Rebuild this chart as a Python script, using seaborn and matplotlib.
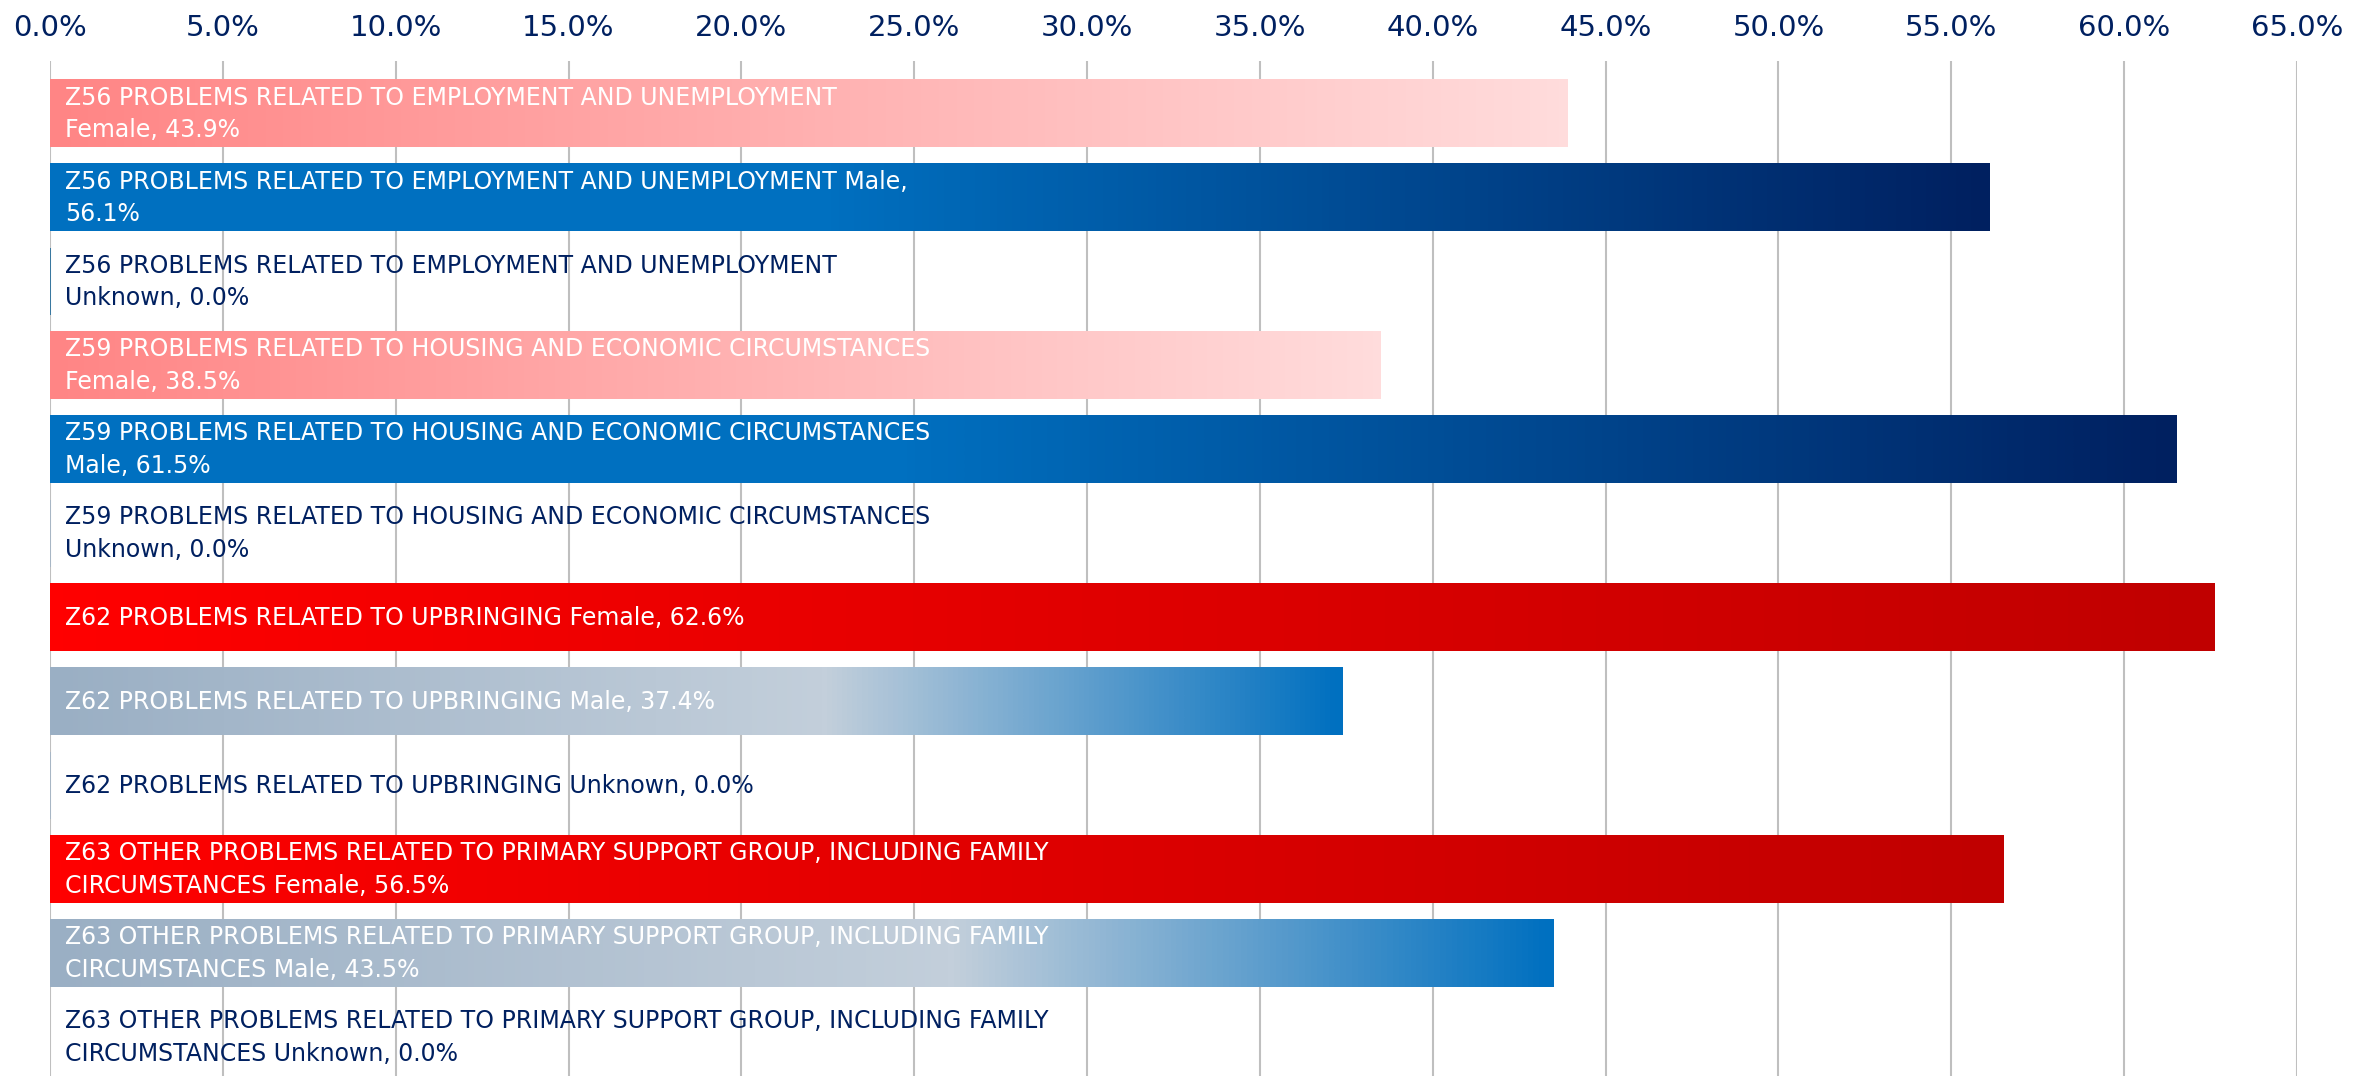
import textwrap
import matplotlib.pyplot as plt
import seaborn as sns
import pandas as pd
import numpy as np
from matplotlib.colors import LinearSegmentedColormap

plt.switch_backend('Agg')

# Data
codes = [
    "Z56 PROBLEMS RELATED TO EMPLOYMENT AND UNEMPLOYMENT",
    "Z59 PROBLEMS RELATED TO HOUSING AND ECONOMIC CIRCUMSTANCES",
    "Z62 PROBLEMS RELATED TO UPBRINGING",
    "Z63 OTHER PROBLEMS RELATED TO PRIMARY SUPPORT GROUP, INCLUDING FAMILY CIRCUMSTANCES",
]
genders = ["Female", "Male", "Unknown"]
female_pct = [43.9, 38.5, 62.6, 56.5]
male_pct = [56.1, 61.5, 37.4, 43.5]
unknown_pct = [0.0, 0.0, 0.0, 0.0]
wrap_widths = [57, 58, 60, 69]
x_ticks = [0, 5, 10, 15, 20, 25, 30, 35, 40, 45, 50, 55, 60, 65]

NAVY = "#002060"

# gradient fills per bar style (Excel-like)
grad_pink = LinearSegmentedColormap.from_list("pink", ["#FF8585", "#FFDCDC"])
grad_blue = LinearSegmentedColormap.from_list(
    "blue", [(0, "#0070C0"), (0.4, "#0070C0"), (1, "#002060")])
grad_red = LinearSegmentedColormap.from_list("red", ["#FF0000", "#C00000"])
grad_grey = LinearSegmentedColormap.from_list(
    "grey", [(0, "#9AAFC4"), (0.6, "#C3CFDB"), (1, "#0070C0")])
bar_cmaps = {
    (0, "Female"): grad_pink, (1, "Female"): grad_pink,
    (0, "Male"): grad_blue, (1, "Male"): grad_blue,
    (2, "Female"): grad_red, (3, "Female"): grad_red,
    (2, "Male"): grad_grey, (3, "Male"): grad_grey,
}
# the zero-width "Unknown" bars still show a hairline edge
unknown_edges = {0: "#1F6A9A", 1: "#A3B5C7", 2: "#A3B5C7"}

rows = []
for i, code in enumerate(codes):
    for g, vals in zip(genders, [female_pct, male_pct, unknown_pct]):
        v = vals[i]
        label = textwrap.fill(f"{code} {g}, {v:.1f}%", width=wrap_widths[i])
        rows.append({"idx": i, "gender": g, "value": v, "label": label})
df = pd.DataFrame(rows)

sns.set_theme(style="white")
plt.rcParams['font.family'] = ['DejaVu Sans']

fig = plt.figure(figsize=(23.74, 10.76), dpi=100)
ax = fig.add_axes([50 / 2374, 0.0, (2297 - 50) / 2374, 1 - 61 / 1076])

sns.barplot(data=df, x="value", y="label", orient="h", color="white",
            width=0.8, ax=ax, zorder=2)

grad = np.linspace(0, 1, 256).reshape(1, -1)
for patch, (_, r) in zip(ax.patches, df.iterrows()):
    x0, y0 = patch.get_x(), patch.get_y()
    w, h = patch.get_width(), patch.get_height()
    patch.set_facecolor("none")
    patch.set_edgecolor("none")
    cmap = bar_cmaps.get((r["idx"], r["gender"]))
    if cmap is not None and w > 0:
        ax.imshow(grad, cmap=cmap, aspect="auto", extent=[x0, x0 + w, y0 + h, y0],
                  zorder=2, interpolation="bilinear")
    if r["gender"] == "Unknown" and r["idx"] in unknown_edges:
        patch.set_edgecolor(unknown_edges[r["idx"]])
        patch.set_linewidth(1.2)
        patch.set_zorder(3)
    txt_color = NAVY if r["gender"] == "Unknown" else "white"
    ax.annotate(r["label"], xy=(0, y0 + h / 2), xytext=(11, 0),
                textcoords="offset points", va="center", ha="left",
                color=txt_color, fontsize=17, linespacing=1.45, zorder=4)

ax.set_xlim(0, 65)
ax.set_ylim(11.46, -0.63)
ax.set_xticks(x_ticks)
ax.set_xticklabels([f"{t:.1f}%" for t in x_ticks])
ax.xaxis.tick_top()
ax.tick_params(axis="x", length=0, pad=14, labelsize=21, labelcolor=NAVY)
ax.set_yticks([])
ax.set_xlabel("")
ax.set_ylabel("")
ax.grid(axis="x", color="#BFBFBF", linewidth=1.5, zorder=0)
ax.set_axisbelow(True)
for s in ax.spines.values():
    s.set_visible(False)

fig.savefig("out.png", dpi=100)
plt.close()
